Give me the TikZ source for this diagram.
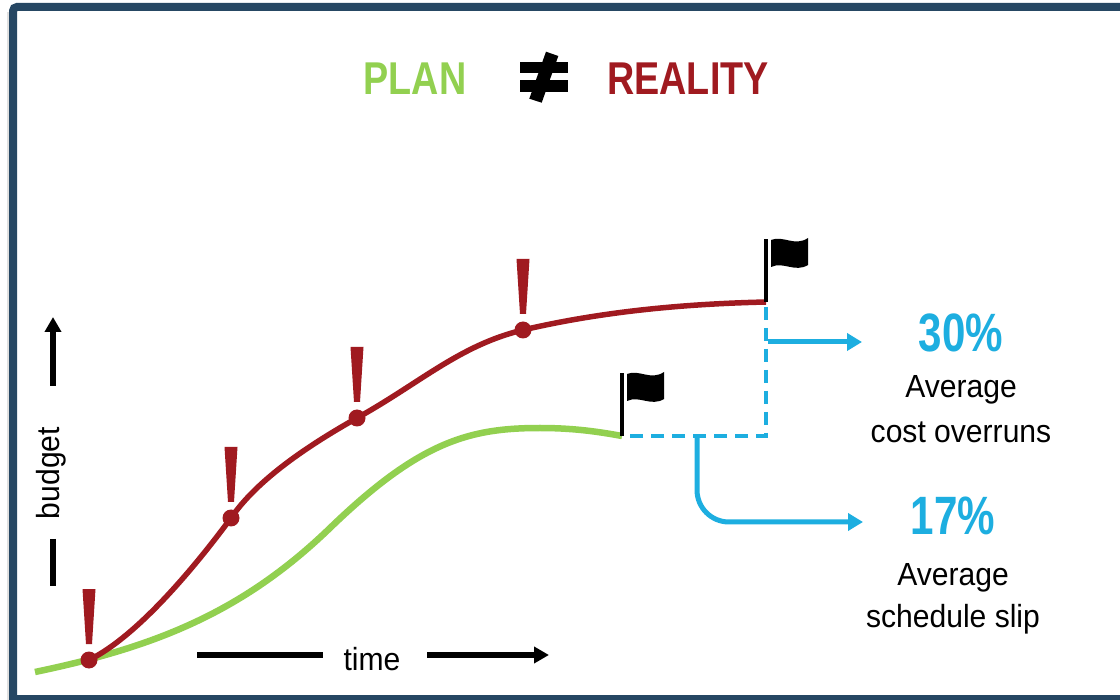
\documentclass[tikz,border=0pt]{standalone}
\usepackage{fontspec}
\setmainfont{Liberation Sans}
\newfontfamily\titlefont[FakeStretch=0.82]{Liberation Sans}
\newfontfamily\bodyfont[FakeStretch=0.94]{Liberation Sans}
\newfontfamily\pctfont[FakeStretch=0.78]{Liberation Sans}
\usetikzlibrary{arrows.meta}
\definecolor{planG}{RGB}{146,208,80}
\definecolor{realR}{RGB}{160,26,32}
\definecolor{statB}{RGB}{29,174,224}
\definecolor{frameB}{RGB}{38,71,99}
\tikzset{
  dotmark/.style={circle,fill=realR,minimum size=17pt,inner sep=0pt},
  exclpic/.pic={\fill[realR] (-6.5,-71) -- (6.5,-71) -- (3,-16) -- (-3,-16) -- cycle;},
  flagpic/.pic={\draw[line width=3.5pt,black] (0,0) -- (0,-63);
     \fill[black] (5,-62) .. controls (17,-67) and (29,-55) .. (42,-64) -- (42,-37)
        .. controls (29,-29) and (17,-41) .. (5,-35) -- cycle;},
  bodytext/.style={font=\bodyfont\fontsize{32}{36}\selectfont,inner sep=0pt,anchor=base},
  pcttext/.style={font=\pctfont\bfseries\fontsize{54}{58}\selectfont,text=statB,inner sep=0pt,anchor=base},
  titletext/.style={font=\titlefont\bfseries\fontsize{46}{50}\selectfont,inner sep=0pt,anchor=base},
  axisline/.style={line width=5.2pt,black},
  axisarrow/.style={axisline,-{Triangle[length=15pt,width=16pt]}},
  statarrow/.style={line width=5pt,statB,-{Triangle[length=15pt,width=17pt]}},
  dashline/.style={line width=4pt,statB,dash pattern=on 13pt off 8pt},
}
\begin{document}
\begin{tikzpicture}[x=1pt,y=-1pt]
\useasboundingbox (0,0) rectangle (1120,700);
\fill[white] (0,0) rectangle (1120,700);
% frame
\draw[line width=3pt,black!12] (8,12) -- (8,700);
\draw[line width=8pt,frameB,rounded corners=4pt] (13,703) -- (13,7) -- (1130,7);
\draw[line width=8pt,frameB] (9,699) -- (1130,699);

% title
\node[titletext,text=planG] (plan) at (415,95) {PLAN};
\node[titletext,text=realR] (reality) at (688,95) {REALITY};
\fill[black] (520,62) rectangle (568,73.3);
\fill[black] (520,80) rectangle (568,91.7);
\fill[black] (546,51.7) -- (558.3,56) -- (541.7,102.7) -- (529.3,98.7) -- cycle;

% points
\coordinate (g0) at (35,672);
\coordinate (g1) at (330,528);
\coordinate (g2) at (540,428);
\coordinate (gend) at (622,436);
\coordinate (rend) at (766,302);

% plan curve
\draw[planG,line width=6.5pt] (g0) .. controls (150,648) and (240,615) .. (g1)
   .. controls (420,441) and (470,428) .. (g2)
   .. controls (575,428) and (600,432) .. (gend);

\node[dotmark] (d0) at (89,660) {};
\node[dotmark] (d1) at (231,518) {};
\node[dotmark] (d2) at (357,418) {};
\node[dotmark] (d3) at (523,330) {};

% reality curve
\draw[realR,line width=5.5pt] (d0.center) .. controls (140,635) and (200,560) .. (d1.center)
   .. controls (255,483) and (300,450) .. (d2.center)
   .. controls (420,383) and (460,345) .. (d3.center)
   .. controls (600,312) and (680,304) .. (rend);

\foreach \d in {d0,d1,d2,d3} \pic at (\d) {exclpic};

% dashed deviation lines
\coordinate (corner) at (766,436);
\draw[dashline] (766,307) -- (corner) -- (628,436);

% flags
\pic at (rend) {flagpic};
\pic at (gend) {flagpic};

% stat texts
\node[pcttext] (p30) at (961,352) {30\%};
\node[bodytext] (av1) at (961,398) {Average};
\node[bodytext] (co) at (961,443) {cost overruns};
\node[pcttext] (p17) at (953,535) {17\%};
\node[bodytext] (av2) at (953,585) {Average};
\node[bodytext] (ss) at (953,627) {schedule slip};

% stat arrows
\coordinate (a1s) at (768,342);
\coordinate (a1e) at (862,342);
\coordinate (a2s) at (697,437);
\coordinate (a2e) at (863,522);
\draw[statarrow] (a1s) -- (a1e);
\draw[statarrow,rounded corners=32pt] (a2s) |- (a2e);

% axes
\node[bodytext,anchor=center,rotate=90] (budget) at (51,473) {budget};
\coordinate (b0) at (53,386);
\coordinate (b1) at (53,317);
\coordinate (b2) at (53,539);
\coordinate (b3) at (53,586);
\draw[axisarrow] (b0) -- (b1);
\draw[axisline] (b2) -- (b3);

\node[bodytext] (time) at (372,670) {time};
\coordinate (t0) at (197,655);
\coordinate (t1) at (323,655);
\coordinate (t2) at (427,655);
\coordinate (t3) at (549,655);
\draw[axisline] (t0) -- (t1);
\draw[axisarrow] (t2) -- (t3);
\end{tikzpicture}
\end{document}
